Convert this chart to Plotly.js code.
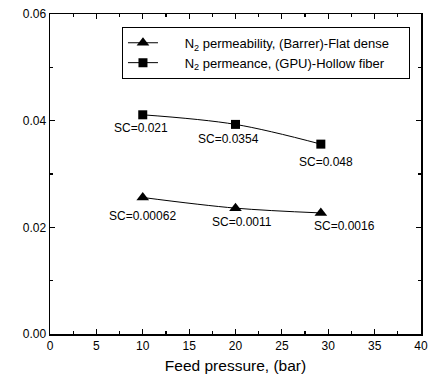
<!DOCTYPE html>
<html>
<head>
<meta charset="utf-8">
<script src="https://cdn.plot.ly/plotly-3.0.1.min.js"></script>
<style>html,body{margin:0;padding:0;background:#fff;}#chart{width:436px;height:389px;}</style>
</head>
<body>
<div id="chart"></div>
<script>
var pressure = [10, 20, 29.2];
var flatDense = [0.0256, 0.0236, 0.0227];
var hollowFiber = [0.0411, 0.0393, 0.0356];
var flatSC = ["SC=0.00062", "SC=0.0011", "SC=0.0016"];
var hollowSC = ["SC=0.021", "SC=0.0354", "SC=0.048"];
var seriesNames = ["N<sub>2</sub> permeability, (Barrer)-Flat dense", "N<sub>2</sub> permeance, (GPU)-Hollow fiber"];

var font = "Liberation Sans, Arial, sans-serif";
var lead = "\u2007\u2007\u2007";
var trail = "\u2007\u2007";
var traces = [
  {x: pressure, y: flatDense, name: lead + seriesNames[0] + trail, mode: "lines+markers", type: "scatter",
   line: {color: "#000", width: 1, shape: "spline"}, marker: {symbol: "triangle-up", size: 11, color: "#000"}},
  {x: pressure, y: hollowFiber, name: lead + seriesNames[1] + trail, mode: "lines+markers", type: "scatter",
   line: {color: "#000", width: 1, shape: "spline"}, marker: {symbol: "square", size: 9, color: "#000"}}
];

var hollowShift = [[-2, -13], [-7, -15], [5, -18]];
var flatShift = [[0, -19], [6, -14], [24, -13]];
var annotations = [];
for (var i = 0; i < pressure.length; i++) {
  annotations.push({x: pressure[i], y: hollowFiber[i], text: hollowSC[i], showarrow: false,
    xshift: hollowShift[i][0], yshift: hollowShift[i][1], font: {family: font, size: 12, color: "#000"}});
  annotations.push({x: pressure[i], y: flatDense[i], text: flatSC[i], showarrow: false,
    xshift: flatShift[i][0], yshift: flatShift[i][1], font: {family: font, size: 12, color: "#000"}});
}

var axisCommon = {showline: true, linecolor: "#000", linewidth: 1.5, mirror: "ticks", ticks: "inside",
  ticklen: 5, tickwidth: 1.2, tickcolor: "#000", showgrid: false, zeroline: false,
  tickfont: {family: font, size: 12, color: "#000"}};

var layout = {
  width: 436, height: 389,
  margin: {l: 50, r: 15, t: 14, b: 55},
  paper_bgcolor: "#fff", plot_bgcolor: "#fff",
  showlegend: true,
  legend: {x: 0.194, y: 0.96, xanchor: "left", yanchor: "top", bordercolor: "#000", borderwidth: 1,
    bgcolor: "#fff", font: {family: font, size: 13, color: "#000"}, tracegroupgap: 0, itemwidth: 30},
  xaxis: Object.assign({}, axisCommon, {range: [0, 40], dtick: 5, tick0: 0,
    minor: {dtick: 2.5, ticks: "inside", ticklen: 3, tickcolor: "#000"},
    title: {text: "Feed pressure, (bar)", font: {family: font, size: 15.5, color: "#000"}, standoff: 8}}),
  yaxis: Object.assign({}, axisCommon, {range: [0, 0.06], dtick: 0.02, tick0: 0, tickformat: ".2f",
    minor: {dtick: 0.01, ticks: "inside", ticklen: 3, tickcolor: "#000"}}),
  annotations: annotations
};
Plotly.newPlot("chart", traces, layout, {displayModeBar: false, staticPlot: true});
</script>
</body>
</html>
